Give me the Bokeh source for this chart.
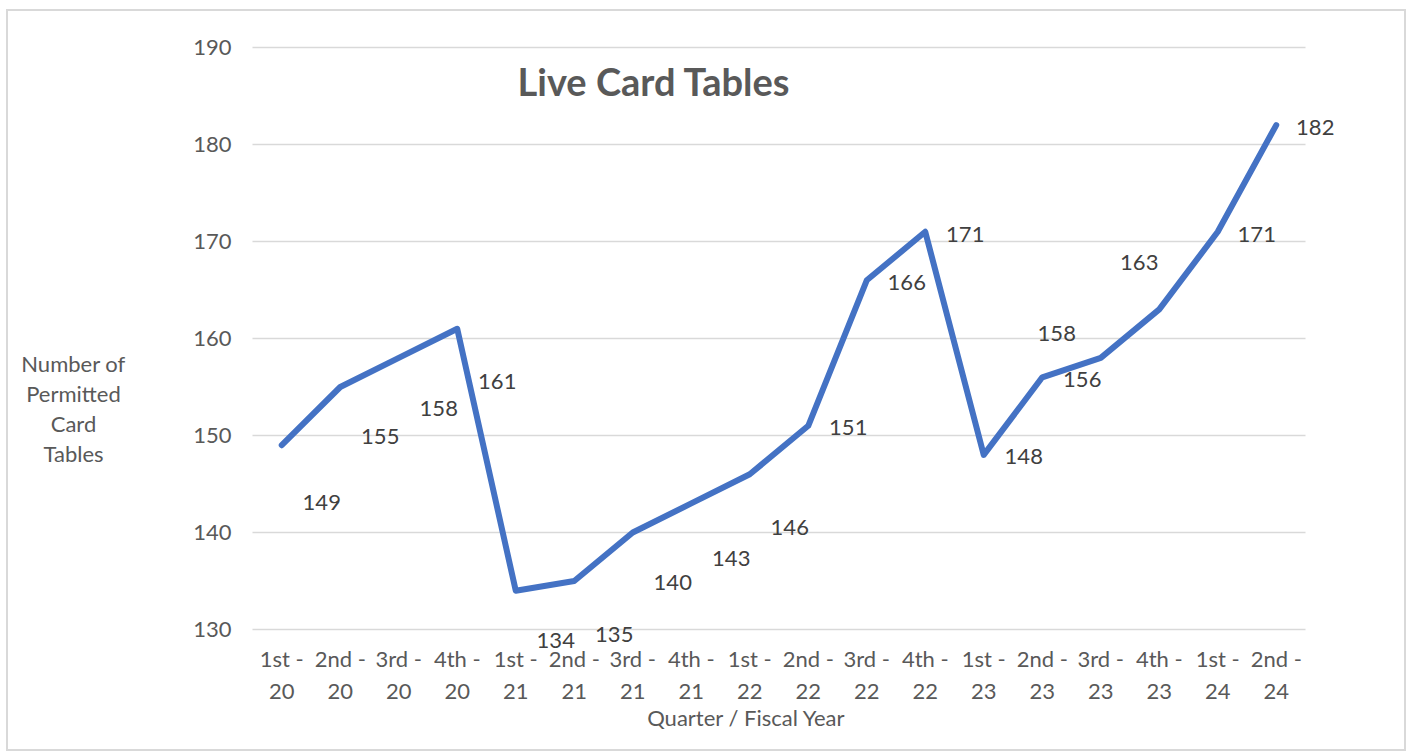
from bokeh.plotting import figure
from bokeh.models import Label, ColumnDataSource, FixedTicker, Range1d
from bokeh.core.properties import value
from bokeh.embed import file_html
from bokeh.resources import INLINE

quarters = ["1st", "2nd", "3rd", "4th", "1st", "2nd", "3rd", "4th", "1st", "2nd",
            "3rd", "4th", "1st", "2nd", "3rd", "4th", "1st", "2nd"]
years = ["20", "20", "20", "20", "21", "21", "21", "21", "22", "22",
         "22", "22", "23", "23", "23", "23", "24", "24"]
tables = [149, 155, 158, 161, 134, 135, 140, 143, 146, 151,
          166, 171, 148, 156, 158, 163, 171, 182]
y_ticks = [130, 140, 150, 160, 170, 180, 190]
# manual data-label offsets (pixels, +down) as placed in the original chart
label_dx = [40, 40, 40, 40, 40, 40, 40, 40, 40, 40, 40, 40, 40, 40, -44, -20, 39, 39]
label_dy = [57, 49, 51, 53, 50, 53, 50, 55, 53, 2, 2, 3, 2, 2, -24, -47, 3, 2]

FONT = "Lato"
GREY = "#595959"
W, H = 1400, 742
FS = "22px"
# plot-area margins inside the canvas (pixels)
ML, MR, MT, MB = 244, 103, 36, 124

n = len(tables)
xs = list(range(n))
tick_labels = {i: f"{q} -\n{y}" for i, (q, y) in enumerate(zip(quarters, years))}

ylo, yhi = y_ticks[0], y_ticks[-1]
xpp = (W - ML - MR) / n            # pixels per category
ypp = (H - MT - MB) / (yhi - ylo)  # pixels per unit
x_range = Range1d(-0.5 - ML / xpp, n - 0.5 + MR / xpp)
y_range = Range1d(ylo - MB / ypp, yhi + MT / ypp)

p = figure(width=W, height=H, output_backend="svg", toolbar_location=None,
           x_range=x_range, y_range=y_range,
           min_border=0, background_fill_color="white", border_fill_color="white")
p.styles = {"border": "2px solid #d9d9d9", "margin-left": "6px", "margin-top": "9px"}
p.outline_line_color = None

p.xgrid.grid_line_color = None
p.ygrid.grid_line_color = "#d9d9d9"
p.ygrid.grid_line_width = 1.5
p.ygrid.cross_bounds = (-0.5, n - 0.5)
p.yaxis.ticker = FixedTicker(ticks=y_ticks)
p.xaxis.ticker = FixedTicker(ticks=xs)
p.xaxis.major_label_overrides = tick_labels
p.yaxis.fixed_location = -0.5
p.xaxis.fixed_location = ylo

for ax in (p.xaxis[0], p.yaxis[0]):
    ax.axis_line_color = None
    ax.major_tick_line_color = None
    ax.minor_tick_line_color = None
    ax.major_label_text_font = FONT
    ax.major_label_text_font_size = FS
    ax.major_label_text_color = GREY
p.yaxis.major_label_standoff = 15
p.xaxis.major_label_standoff = 9

src = ColumnDataSource(dict(x=xs, y=tables, lab=[str(v) for v in tables],
                            dx=label_dx, dy=label_dy))
p.line("x", "y", source=src, line_color="#4472C4", line_width=6,
       line_join="round", line_cap="round")
p.text("x", "y", text="lab", source=src, x_offset="dx", y_offset="dy",
       text_font=value(FONT), text_font_size=FS, text_color="#404040",
       text_align="center", text_baseline="middle")

# Label screen coordinates: x from frame left, y up from frame bottom
p.add_layout(Label(x=509, y=673, x_units="screen", y_units="screen",
                   text="Live Card Tables", text_font=FONT, text_font_size="38px",
                   text_font_style="bold", text_color=GREY,
                   text_align="left", text_baseline="middle"))
p.add_layout(Label(x=65, y=345, x_units="screen", y_units="screen",
                   text="Number of\nPermitted\nCard\nTables", text_font=FONT,
                   text_font_size=FS, text_color=GREY, text_line_height=1.12,
                   text_align="center", text_baseline="middle"))
p.add_layout(Label(x=738, y=36, x_units="screen", y_units="screen",
                   text="Quarter / Fiscal Year", text_font=FONT,
                   text_font_size=FS, text_color=GREY,
                   text_align="center", text_baseline="middle"))

open("out.html", "w").write(file_html(p, INLINE))
